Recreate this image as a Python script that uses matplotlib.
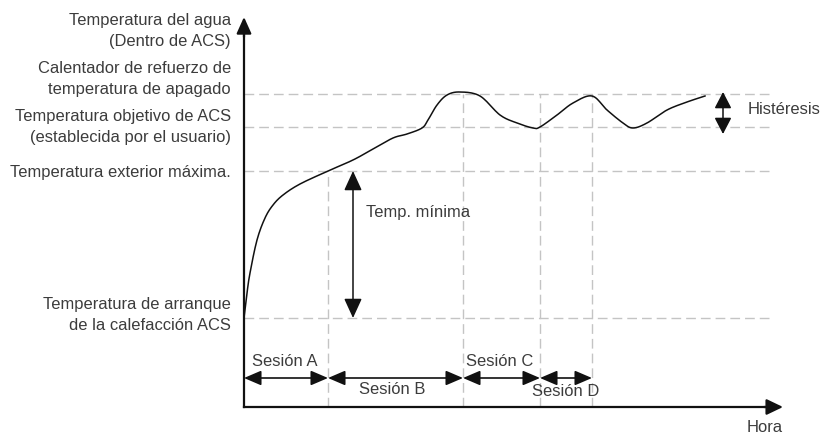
import numpy as np
import matplotlib
matplotlib.use("Agg")
import matplotlib.pyplot as plt

plt.rcParams['font.family'] = ['Liberation Sans', 'DejaVu Sans']

# ---- data (arbitrary units) ----
time = [0, 3, 6, 13, 21, 29, 39, 56, 84, 109, 129, 149, 163, 178, 184, 193, 203,
        216, 236, 256, 273, 289, 296, 313, 329, 348, 363, 379, 389, 403, 423, 443, 461]
temp = [89, 114, 134, 167, 189, 202, 212, 223, 236, 247, 258, 269, 273, 279, 287, 302, 312,
        315, 311, 292, 284, 279, 280, 292, 304, 311, 297, 284, 279, 284, 297, 305, 311]

level_names = ["Calentador de refuerzo de\ntemperatura de apagado",
               "Temperatura objetivo de ACS\n(establecida por el usuario)",
               "Temperatura exterior máxima.",
               "Temperatura de arranque\nde la calefacción ACS"]
level_values = [313, 280, 236, 89]
level_label_y = [328, 280, 235, 92]

session_names = ["Sesión A", "Sesión B", "Sesión C", "Sesión D"]
session_bounds = [0, 84, 219, 296, 348]

y_axis_title = "Temperatura del agua\n(Dentro de ACS)"
x_axis_title = "Hora"

# ---- figure ----
W, H = 823, 433
fig = plt.figure(figsize=(W / 100, H / 100), dpi=100)
ax = fig.add_axes([0, 0, 1, 1])
ax.set_xlim(-244, W - 244)
ax.set_ylim(407 - H, 407)
ax.axis('off')

TXT = '#3c3c3c'
GRID = '#c4c4c4'
FS = 11.9
LS = 1.45
dash = (0, (7, 3.6))

# horizontal dashed levels
for v in level_values:
    ax.plot([0, 529], [v, v], color=GRID, lw=1.0, ls=dash, zorder=1)
# vertical dashed session bounds
for b in session_bounds[1:]:
    top = level_values[2] if b == session_bounds[1] else level_values[0]
    ax.plot([b, b], [0, top], color=GRID, lw=1.0, ls=dash, zorder=1)

# curve (Catmull-Rom smoothing through read points)
P = np.column_stack([time, temp]).astype(float)
Pp = np.vstack([P[0], P, P[-1]])
xs, ys = [], []
for i in range(1, len(Pp) - 2):
    p0, p1, p2, p3 = Pp[i - 1], Pp[i], Pp[i + 1], Pp[i + 2]
    for s in np.linspace(0, 1, 12, endpoint=False):
        pt = 0.5 * ((2 * p1) + (-p0 + p2) * s + (2 * p0 - 5 * p1 + 4 * p2 - p3) * s ** 2
                    + (-p0 + 3 * p1 - 3 * p2 + p3) * s ** 3)
        xs.append(pt[0]); ys.append(pt[1])
xs.append(P[-1, 0]); ys.append(P[-1, 1])
ax.plot(xs, ys, color='#111111', lw=1.1, zorder=3)

# arrows helper
def arrow(x0, y0, x1, y1, style, hl, hw, lw=1.3, color='#111111'):
    ax.annotate('', xy=(x1, y1), xytext=(x0, y0),
                arrowprops=dict(arrowstyle=f'{style},head_length={hl},head_width={hw}',
                                mutation_scale=10, lw=lw, color=color,
                                shrinkA=0, shrinkB=0), zorder=4)

ax.plot([0, 0], [0, 380], color='#111111', lw=1.6, zorder=4)
ax.plot([0, 528], [0, 0], color='#111111', lw=1.6, zorder=4)
arrow(0, 370, 0, 390, '-|>', 1.0, 0.45, lw=1.6)
arrow(520, 0, 539, 0, '-|>', 1.0, 0.48, lw=1.6)

# session arrows
sy = 29
for a, b in zip(session_bounds[:-1], session_bounds[1:]):
    arrow(a, sy, b, sy, '<|-|>', 1.05, 0.45, lw=1.2)

session_label_pos = [(41, 46), (148, 17), (256, 46), (322, 15)]
for name, (x, y) in zip(session_names, session_label_pos):
    ax.text(x, y, name, ha='center', va='center', fontsize=FS, color=TXT)

# Temp. minima arrow
arrow(109, level_values[3], 109, level_values[2], '<|-|>', 1.2, 0.55, lw=1.1)
ax.text(122, 194, "Temp. mínima", ha='left', va='center', fontsize=FS, color=TXT)

# Hysteresis arrow
arrow(479, 273, 479, 315, '<|-|>', 1.0, 0.52, lw=1.1)
ax.text(504, 297, "Histéresis", ha='left', va='center', fontsize=FS, color=TXT)

# left labels
ax.text(-13, 376, y_axis_title, ha='right', va='center', fontsize=FS, color=TXT,
        multialignment='right', linespacing=LS)
for name, y in zip(level_names, level_label_y):
    ax.text(-13, y, name, ha='right', va='center', fontsize=FS, color=TXT,
            multialignment='right', linespacing=LS)

ax.text(539, -20, x_axis_title, ha='right', va='center', fontsize=FS, color=TXT)

fig.savefig('out.png', dpi=100)
